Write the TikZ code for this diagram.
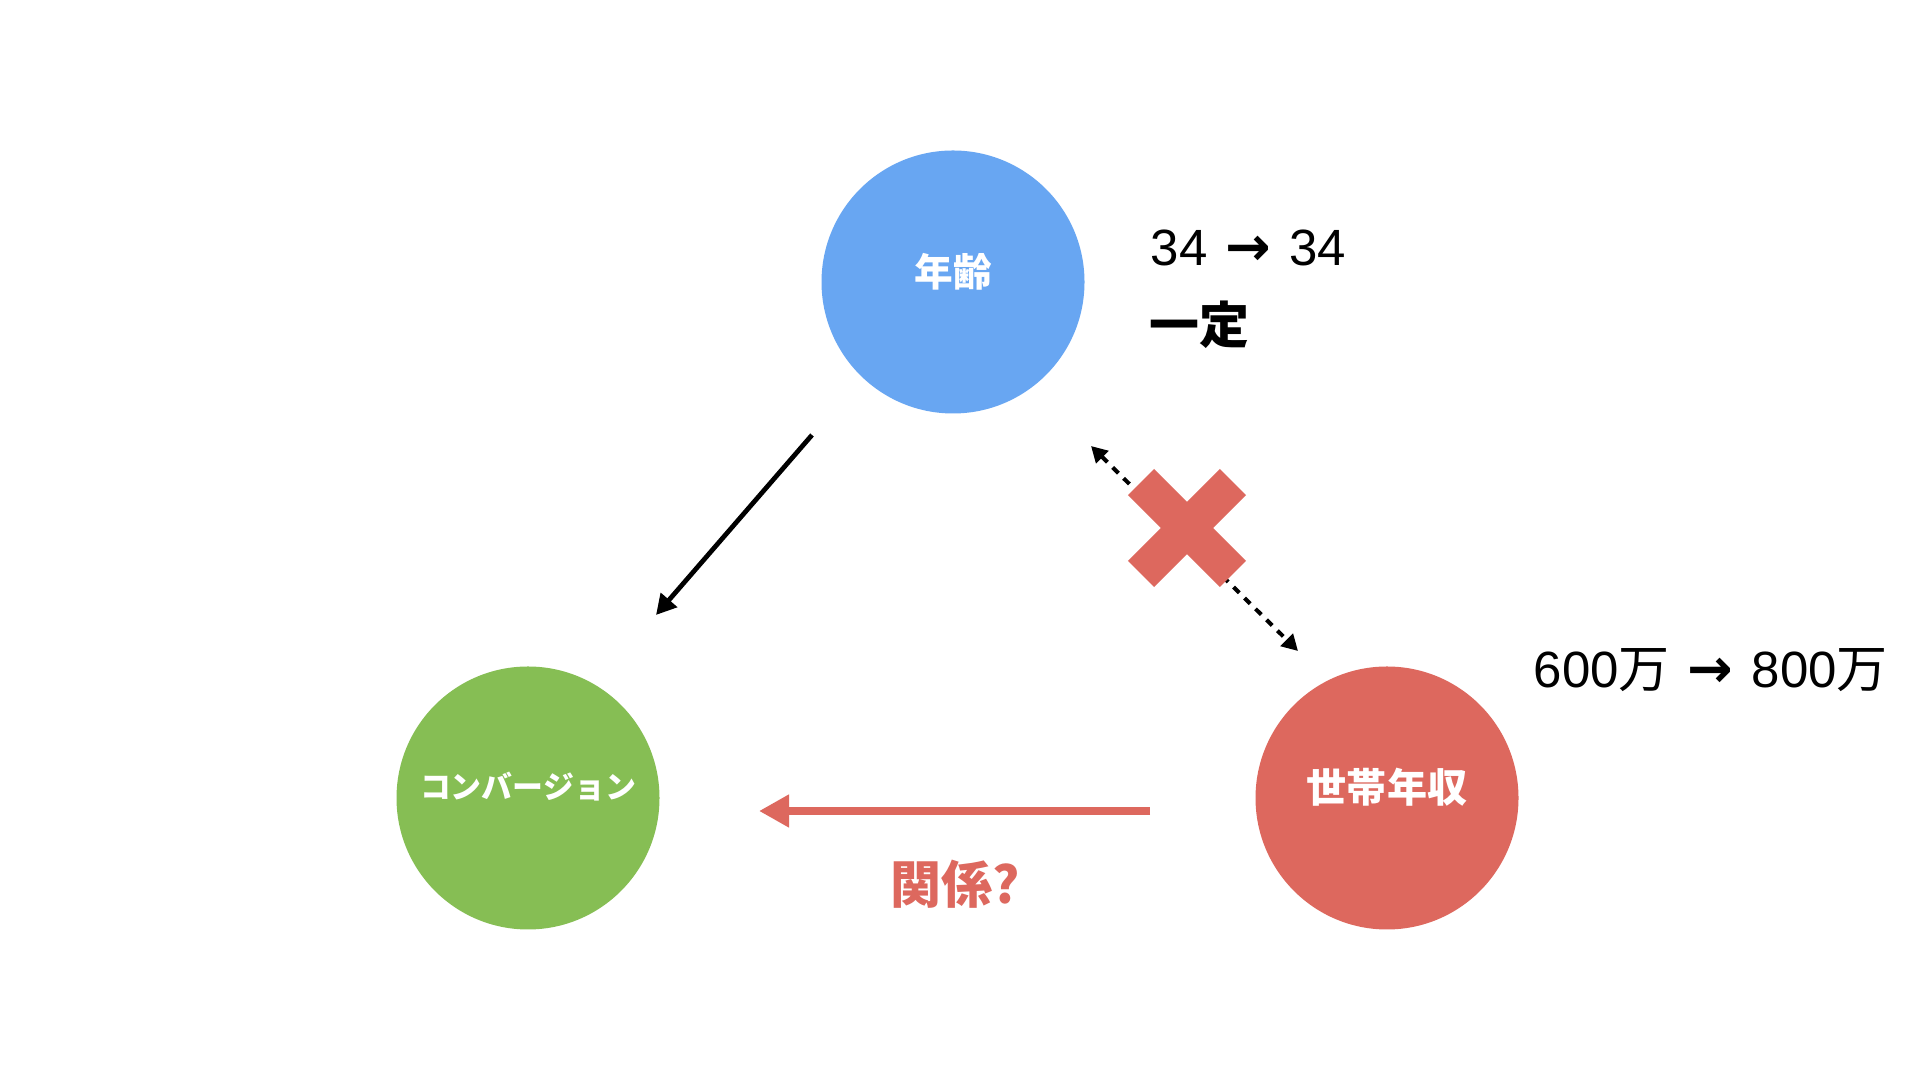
\documentclass[tikz,border=0pt]{standalone}
\usepackage{fontspec}
\setmainfont{Liberation Sans}
\newfontfamily\jafont{Noto Sans CJK JP}
\newfontfamily\arrfont{DejaVu Sans}
\usetikzlibrary{arrows.meta}

\definecolor{agebl}{RGB}{104,166,242}
\definecolor{convgr}{RGB}{134,190,84}
\definecolor{incrd}{RGB}{221,104,94}

\newcommand{\toarr}{\hspace{0.04cm}{\arrfont\bfseries\fontsize{15.5pt}{17pt}\selectfont →}\hspace{0.04cm}}

\tikzset{
  factor/.style={circle, minimum size=2.63cm, inner sep=0pt, text=white, text depth=0.25cm,
    font=\jafont\bfseries\fontsize{11pt}{13pt}\selectfont},
  note/.style={anchor=base west, inner sep=0pt, font=\fontsize{14.5pt}{17pt}\selectfont},
  crossbar/.style={fill=incrd, minimum width=1.3cm, minimum height=0.37cm, inner sep=0pt},
}

\begin{document}
\begin{tikzpicture}

\fill[white] (0,0) rectangle (19.2,10.8);
\useasboundingbox (0,0) rectangle (19.2,10.8);

% top:
\node[factor, fill=agebl] (age) at (9.53,7.98) {年齢};
\node[note] (agenum) at (11.5,8.14) {34 \toarr{} 34};
\node[right, inner sep=0pt, font=\jafont\bfseries\fontsize{14.2pt}{17pt}\selectfont] (agefix) at (11.49,7.55) {一定};

% bottom left:
\node[factor, fill=convgr, font=\jafont\bfseries\fontsize{8.8pt}{11pt}\selectfont] (conv) at (5.28,2.82) {コンバージョン};

% bottom right:
\node[factor, fill=incrd, font=\jafont\bfseries\fontsize{11.4pt}{13pt}\selectfont] (income) at (13.87,2.82) {世帯年収};
\node[note] (incnum) at (15.33,3.92) {600{\jafont 万} \toarr{} 800{\jafont 万}};

% arrows:
\coordinate (a1) at (8.12,6.45);
\coordinate (a2) at (6.56,4.65);
\draw[-{Triangle[length=0.2cm,width=0.21cm]}, line width=1.35pt] (a1) -- (a2);

\coordinate (d1) at (10.91,6.34);
\coordinate (d2) at (12.98,4.29);
\draw[{Triangle[length=0.16cm,width=0.17cm]}-{Triangle[length=0.16cm,width=0.17cm]},
  line width=1.15pt, dash pattern=on 2.3pt off 2.1pt] (d1) -- (d2);

\node[crossbar, rotate=45] (crossa) at (11.87,5.52) {};
\node[crossbar, rotate=-45] (crossb) at (11.87,5.52) {};

\coordinate (r1) at (11.5,2.69);
\coordinate (r2) at (7.59,2.69);
\draw[-{Triangle[length=0.3cm,width=0.31cm]}, line width=2.3pt, incrd] (r1) -- (r2);
\node[text=incrd, font=\jafont\bfseries\fontsize{14.5pt}{17pt}\selectfont] (rel) at (9.55,1.96) {関係?};

\end{tikzpicture}
\end{document}
